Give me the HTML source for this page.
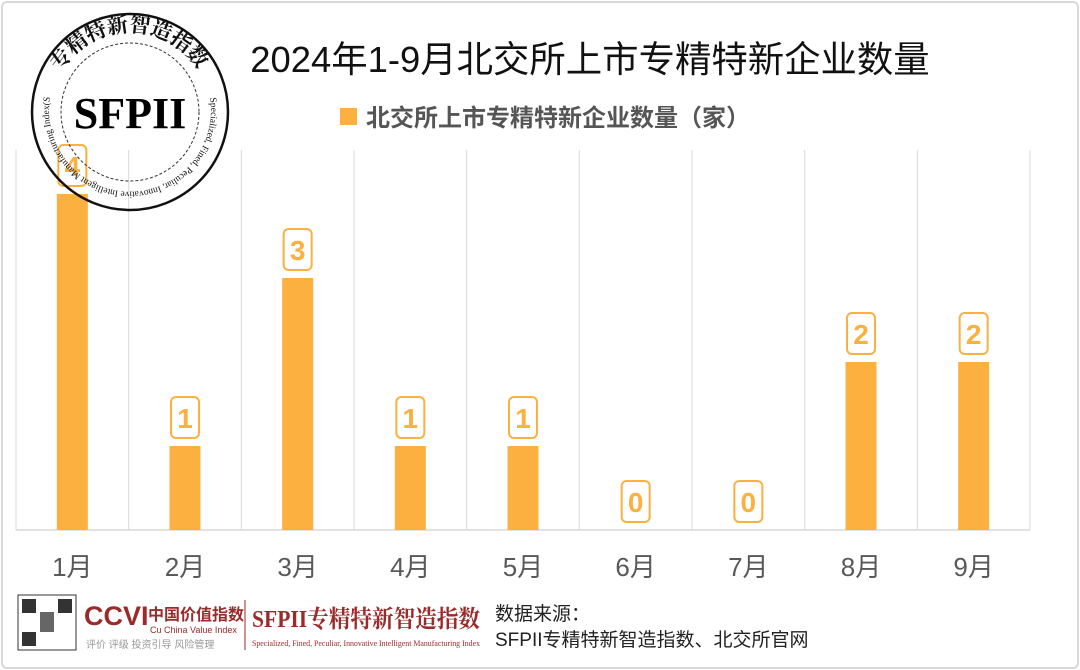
<!DOCTYPE html>
<html><head><meta charset="utf-8">
<style>
body{margin:0;background:#fff;}
#wrap{position:relative;width:1080px;height:670px;overflow:hidden;font-family:"Liberation Sans","Noto Sans CJK SC",sans-serif;}
#frame{position:absolute;left:1px;top:1px;width:1074px;height:664px;border:2px solid #d9d9d9;border-radius:6px;}
</style></head>
<body>
<div id="wrap">
<div id="frame"></div>
<svg id="chart" width="1080" height="670" style="position:absolute;left:0;top:0">
  <text x="590" y="72" font-size="36.4" text-anchor="middle" fill="#111" font-family="Liberation Sans, Noto Sans CJK SC, sans-serif">2024年1-9月北交所上市专精特新企业数量</text>
  <rect x="340" y="108" width="17" height="17" fill="#fbb040"/>
  <text x="366" y="126" font-size="24" font-weight="bold" fill="#555" font-family="Liberation Sans, Noto Sans CJK SC, sans-serif">北交所上市专精特新企业数量（家）</text>
  <g id="grid"></g>
  <g id="bars"></g>
  <g id="xlabels"></g>
  <!-- logo -->
  <g>
    <circle cx="130" cy="112" r="98" fill="none" stroke="#111" stroke-width="2.5"/>
    <circle cx="130" cy="112" r="69" fill="none" stroke="#333" stroke-width="1" stroke-dasharray="3 2"/>
    <text x="130" y="128" font-size="44" font-weight="bold" text-anchor="middle" font-family="Liberation Serif, serif" fill="#000">SFPII</text>
    <path id="arcTop" d="M 60.7 72 A 80 80 0 0 1 199.3 72" fill="none"/>
    <text font-size="21" font-weight="bold" fill="#111" font-family="Liberation Serif, Noto Serif CJK SC, serif"><textPath href="#arcTop" textLength="165">专精特新智造指数</textPath></text>
    <path id="arcBot" d="M 210 98 A 81 81 0 1 1 50 98" fill="none"/>
    <text font-size="9.5" fill="#111" font-family="Liberation Serif, serif"><textPath href="#arcBot" textLength="300" lengthAdjust="spacingAndGlyphs">Specialized, Fined, Peculiar, Innovative  Intelligent Manufacturing Index(SFPII)</textPath></text>
  </g>
  <!-- footer -->
  <g>
    <rect x="18" y="595" width="58" height="55" fill="#fff" stroke="#333" stroke-width="1"/>
    <rect x="22" y="599" width="14" height="14" fill="#333"/><rect x="58" y="599" width="14" height="14" fill="#333"/><rect x="22" y="632" width="14" height="14" fill="#333"/>
    <rect x="40" y="612" width="14" height="20" fill="#666"/>
    <text x="84" y="625" font-size="27" font-weight="bold" fill="#9b2a2a" font-family="Liberation Sans, sans-serif">CCVI</text>
    <text x="148" y="620" font-size="16" font-weight="bold" fill="#9b2a2a" font-family="Liberation Sans, Noto Sans CJK SC, sans-serif">中国价值指数</text>
    <text x="150" y="633" font-size="9" fill="#9b2a2a">Cu China Value Index</text>
    <text x="86" y="648" font-size="10" fill="#999" font-family="Liberation Sans, Noto Sans CJK SC, sans-serif">评价  评级  投资引导  风险管理</text>
    <line x1="245" y1="600" x2="245" y2="650" stroke="#9b2a2a" stroke-width="1"/>
    <text x="252" y="627" font-size="24" font-weight="bold" fill="#9b2a2a" font-family="Liberation Serif, Noto Serif CJK SC, serif" textLength="228" lengthAdjust="spacingAndGlyphs">SFPII专精特新智造指数</text>
    <text x="252" y="646" font-size="8" fill="#9b2a2a" font-family="Liberation Serif, serif" textLength="228" lengthAdjust="spacingAndGlyphs">Specialized, Fined, Peculiar, Innovative  Intelligent Manufacturing Index</text>
    <text x="495" y="620" font-size="19" fill="#222" font-family="Liberation Sans, Noto Sans CJK SC, sans-serif">数据来源：</text>
    <text x="495" y="646" font-size="19" fill="#222" font-family="Liberation Sans, Noto Sans CJK SC, sans-serif">SFPII专精特新智造指数、北交所官网</text>
  </g>
</svg>
</div>
<script>
const categories=["1月","2月","3月","4月","5月","6月","7月","8月","9月"];
const values=[4,1,3,1,1,0,0,2,2];
const NS="http://www.w3.org/2000/svg";
const x0=16,x1=1030,y0=530,yTop=150,unit=84;
const bw=(x1-x0)/categories.length;
const xc=i=>x0+bw*(i+0.5);
const ys=v=>y0-v*unit;
function mk(t,a,p){const e=document.createElementNS(NS,t);for(const k in a)e.setAttribute(k,a[k]);p.appendChild(e);return e;}
const grid=document.getElementById('grid'),bars=document.getElementById('bars'),xl=document.getElementById('xlabels');
for(let i=0;i<=categories.length;i++){
  const g=mk('line',{x1:x0+bw*i,x2:x0+bw*i,y1:yTop,y2:y0,stroke:'#d9d9d9','stroke-width':1},grid);
  
  
}
const ax=mk('line',{x1:x0,x2:x1,y1:y0,y2:y0,stroke:'#d9d9d9','stroke-width':1.5},grid);


categories.forEach((c,i)=>{
  const v=values[i],cx=xc(i);
  if(v>0){
    const r=mk('rect',{x:cx-15.5,y:ys(v),width:31,height:y0-ys(v),fill:'#fbb040'},bars);
    
    
  }
  const top=ys(v)-49;
  const b=mk('rect',{x:cx-14,y:top,width:28,height:41,rx:5,fill:'#fff',stroke:'#fbb040','stroke-width':2},bars);
  
  
  const t=mk('text',{x:cx,y:top+31,'font-size':28,'font-weight':'bold','text-anchor':'middle',fill:'#fbb040','font-family':'Liberation Sans, sans-serif'},bars);
  t.textContent=v;
  
  
  const l=mk('text',{x:cx,y:576,'font-size':26,'text-anchor':'middle',fill:'#595959','font-family':'Liberation Sans, Noto Sans CJK SC, sans-serif'},xl);
  l.textContent=c;
  
  
});
</script>
</body></html>
